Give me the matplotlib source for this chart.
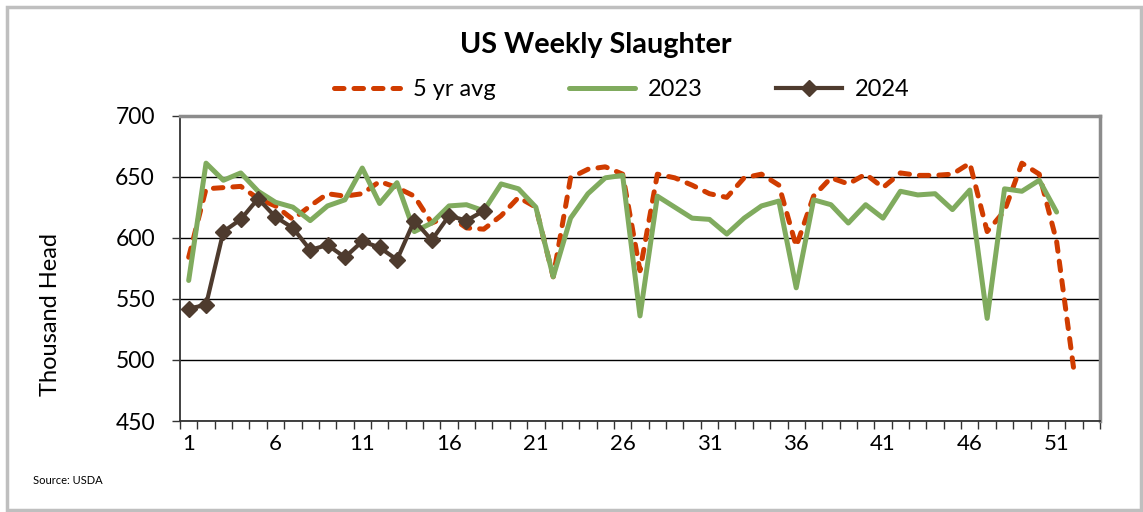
import matplotlib
matplotlib.use("Agg")
import matplotlib.pyplot as plt
from matplotlib.patches import Rectangle

weeks = list(range(1, 54))

avg5 = [584, 640, 641, 642, 632, 626, 615, 626, 636, 634, 636, 646, 641, 634, 612,
        618, 608, 607, 618, 633, 625, 568, 649, 656, 658, 652, 573, 652, 649, 643,
        636, 633, 649, 652, 643, 593, 634, 649, 644, 652, 641, 653, 651, 651, 652,
        661, 605, 622, 661, 652, 597, 491]

y2023 = [565, 661, 647, 653, 638, 629, 625, 614, 626, 631, 657, 628, 645, 605, 612,
         626, 627, 622, 644, 640, 625, 568, 616, 636, 649, 651, 536, 634, 625, 616,
         615, 603, 616, 626, 630, 559, 631, 627, 612, 627, 616, 638, 635, 636, 623,
         639, 534, 640, 638, 647, 621]

y2024 = [542, 545, 605, 615, 632, 617, 608, 590, 594, 584, 597, 592, 582, 614, 598,
         618, 614, 622]

xtick_labels = [1, 6, 11, 16, 21, 26, 31, 36, 41, 46, 51]
yticks = [450, 500, 550, 600, 650, 700]

plt.rcParams['font.family'] = ['Lato', 'DejaVu Sans']

fig = plt.figure(figsize=(11.43, 5.12), dpi=100)
ax = fig.add_axes([180 / 1143, 1 - 421 / 512, 920 / 1143, (421 - 115.5) / 512])

c_avg = '#D03C00'
c_23 = '#80AB5E'
c_24 = '#4E3B2E'

ax.plot(weeks[:len(avg5)], avg5, color=c_avg, lw=3.6, ls=(0, (1.9, 2.0)),
        dash_capstyle='round', label='5 yr avg', zorder=3)
ax.plot(weeks[:len(y2023)], y2023, color=c_23, lw=3.6, label='2023', zorder=4,
        solid_capstyle='round')
ax.plot(weeks[:len(y2024)], y2024, color=c_24, lw=3.0, marker='D', ms=8.5,
        label='2024', zorder=5)

ax.set_xlim(0.5, 53.5)
ax.set_ylim(450, 700)
ax.set_yticks(yticks)
ax.set_xticks(xtick_labels)
ax.set_xticks([w - 0.5 for w in weeks] + [53.5], minor=True)
ax.tick_params(axis='x', which='major', length=0, pad=9, labelsize=16)
ax.tick_params(axis='x', which='minor', length=6, width=1, direction='out', color='#333333')
ax.tick_params(axis='y', which='major', length=6, width=1, direction='out',
               labelsize=16.5, pad=12, color='#333333')
ax.grid(axis='y', color='black', lw=1)
ax.set_axisbelow(True)

for s in ['left', 'bottom']:
    ax.spines[s].set_color('#333333')
    ax.spines[s].set_linewidth(1.3)
for s in ['top', 'right']:
    ax.spines[s].set_color('#8C8C8C')
    ax.spines[s].set_linewidth(2.5)

fig.text(51 / 1143, 1 - 314 / 512, 'Thousand Head', rotation=90, ha='center',
         va='center', fontsize=17)

fig.text(595.5 / 1143, 1 - 45 / 512, 'US Weekly Slaughter', ha='center', va='center',
         fontsize=20.7, fontweight='bold')

leg = fig.legend(loc='center', bbox_to_anchor=(621.5 / 1143, 1 - 90 / 512), ncol=3,
                 frameon=False, fontsize=17, handlelength=2.8, columnspacing=3.1,
                 handletextpad=0.55)

fig.text(33 / 1143, 1 - 480 / 512, 'Source: USDA', fontsize=8, va='center', ha='left')

fig.patches.append(Rectangle((7 / 1143, 2 / 512), 1134 / 1143, 503 / 512,
                             transform=fig.transFigure, fill=False,
                             edgecolor='#BFBFBF', lw=2.5))

fig.savefig('out.png', dpi=100)
